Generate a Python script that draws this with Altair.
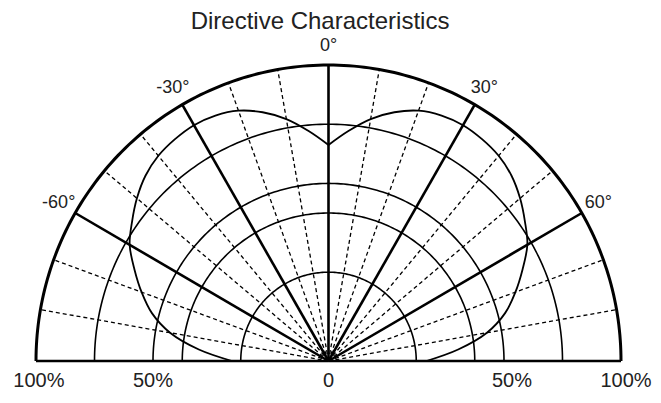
import altair as alt
import numpy as np
import pandas as pd

# ---- data ----
ring_levels = [0.3, 0.5, 0.6, 0.8]
outer_level = [1.0]
solid_spokes = [-90, -60, -30, 0, 30, 60, 90]
dashed_spokes = [-80, -70, -50, -40, -20, -10, 10, 20, 40, 50, 70, 80]

pattern_angles = [0, 5, 10, 15, 20, 25, 30, 35, 40, 45, 50, 55, 60, 65, 70, 75, 80, 85, 90]
pattern_right = [0.73, 0.78, 0.83, 0.87, 0.90, 0.915, 0.92, 0.915, 0.905, 0.885, 0.855,
                 0.82, 0.785, 0.732, 0.68, 0.625, 0.55, 0.445, 0.335]
pattern_left = [0.73, 0.78, 0.83, 0.87, 0.90, 0.915, 0.92, 0.915, 0.905, 0.885, 0.855,
                0.82, 0.785, 0.732, 0.68, 0.625, 0.55, 0.445, 0.33]

angle_label_deg = [-60, -30, 0, 30, 60]
angle_label_text = ["-60°", "-30°", "0°", "30°", "60°"]
scale_tick_pos = [-0.99, -0.60, 0.0, 0.627, 1.017]
scale_tick_text = ["100%", "50%", "0", "50%", "100%"]

TITLE = "Directive Characteristics"

# ---- tables ----
sweep = np.arange(-90, 91, 1)
rings = pd.DataFrame([{"r": r, "theta": t} for r in ring_levels for t in sweep])
outer = pd.DataFrame([{"r": r, "theta": t} for r in outer_level for t in sweep])
spk_solid = pd.DataFrame({"theta": solid_spokes, "r": 1.0})
spk_dash = pd.DataFrame({"theta": dashed_spokes, "r": 1.0})
pattern = pd.concat([
    pd.DataFrame({"theta": pattern_angles, "r": pattern_right, "side": "right"}),
    pd.DataFrame({"theta": [-a for a in pattern_angles], "r": pattern_left, "side": "left"}),
])
angle_labels = pd.DataFrame({"theta": angle_label_deg, "label": angle_label_text, "r": 1.065})
scale_labels = pd.DataFrame({"pos": scale_tick_pos, "label": scale_tick_text})
title_df = pd.DataFrame({"label": [TITLE]})

xs = alt.Scale(domain=[-1, 1], nice=False, zero=False)
ys = alt.Scale(domain=[0, 1], nice=False, zero=False)

def polar(ch):
    return ch.transform_calculate(
        px="datum.r * sin(datum.theta * PI / 180)",
        py="datum.r * cos(datum.theta * PI / 180)",
    )

X = alt.X("px:Q", scale=xs, axis=None)
Y = alt.Y("py:Q", scale=ys, axis=None)

ring_layer = polar(alt.Chart(rings)).mark_line(color="#000", strokeWidth=1.6).encode(
    x=X, y=Y, detail="r:N", order=alt.Order("theta:Q"))
outer_layer = polar(alt.Chart(outer)).mark_line(color="#000", strokeWidth=3).encode(
    x=X, y=Y, detail="r:N", order=alt.Order("theta:Q"))

def spokes(df, **style):
    return alt.Chart(df).transform_calculate(
        x0="0", y0="0",
        px="datum.r * sin(datum.theta * PI / 180)",
        py="datum.r * cos(datum.theta * PI / 180)",
    ).mark_rule(color="#000", **style).encode(
        x=alt.X("x0:Q", scale=xs, axis=None), y=alt.Y("y0:Q", scale=ys, axis=None),
        x2="px:Q", y2="py:Q")

dash_layer = spokes(spk_dash, strokeWidth=1.3, strokeDash=[4, 3])
solid_layer = spokes(spk_solid, strokeWidth=2.6)

pattern_layer = polar(alt.Chart(pattern)).mark_line(
    color="#000", strokeWidth=1.8, interpolate="catmull-rom").encode(
    x=X, y=Y, detail="side:N", order=alt.Order("theta:Q"))

angle_text = polar(alt.Chart(angle_labels)).mark_text(
    font="Liberation Sans", fontSize=18, color="#222", align="center", baseline="middle").encode(
    x=X, y=Y, text="label:N")

scale_text = alt.Chart(scale_labels).transform_calculate(yy="0").mark_text(
    font="Liberation Sans", fontSize=20, color="#222", align="center", baseline="middle", dy=20).encode(
    x=alt.X("pos:Q", scale=xs, axis=None), y=alt.Y("yy:Q", scale=ys, axis=None), text="label:N")

title_text = alt.Chart(title_df).mark_text(
    font="Liberation Sans", fontSize=24, color="#222", align="center", baseline="alphabetic").encode(
    x=alt.datum(-0.029, scale=xs), y=alt.datum(1.12, scale=ys), text="label:N")

chart = alt.layer(
    ring_layer, dash_layer, solid_layer, outer_layer, pattern_layer, angle_text, scale_text, title_text
).properties(
    width=585, height=296,
    autosize=alt.AutoSizeParams(type="none"),
    padding={"left": 28, "top": 57, "right": 32, "bottom": 30},
).configure_view(stroke=None)

chart.save("out.html", embed_options={"renderer": "svg", "actions": False})
